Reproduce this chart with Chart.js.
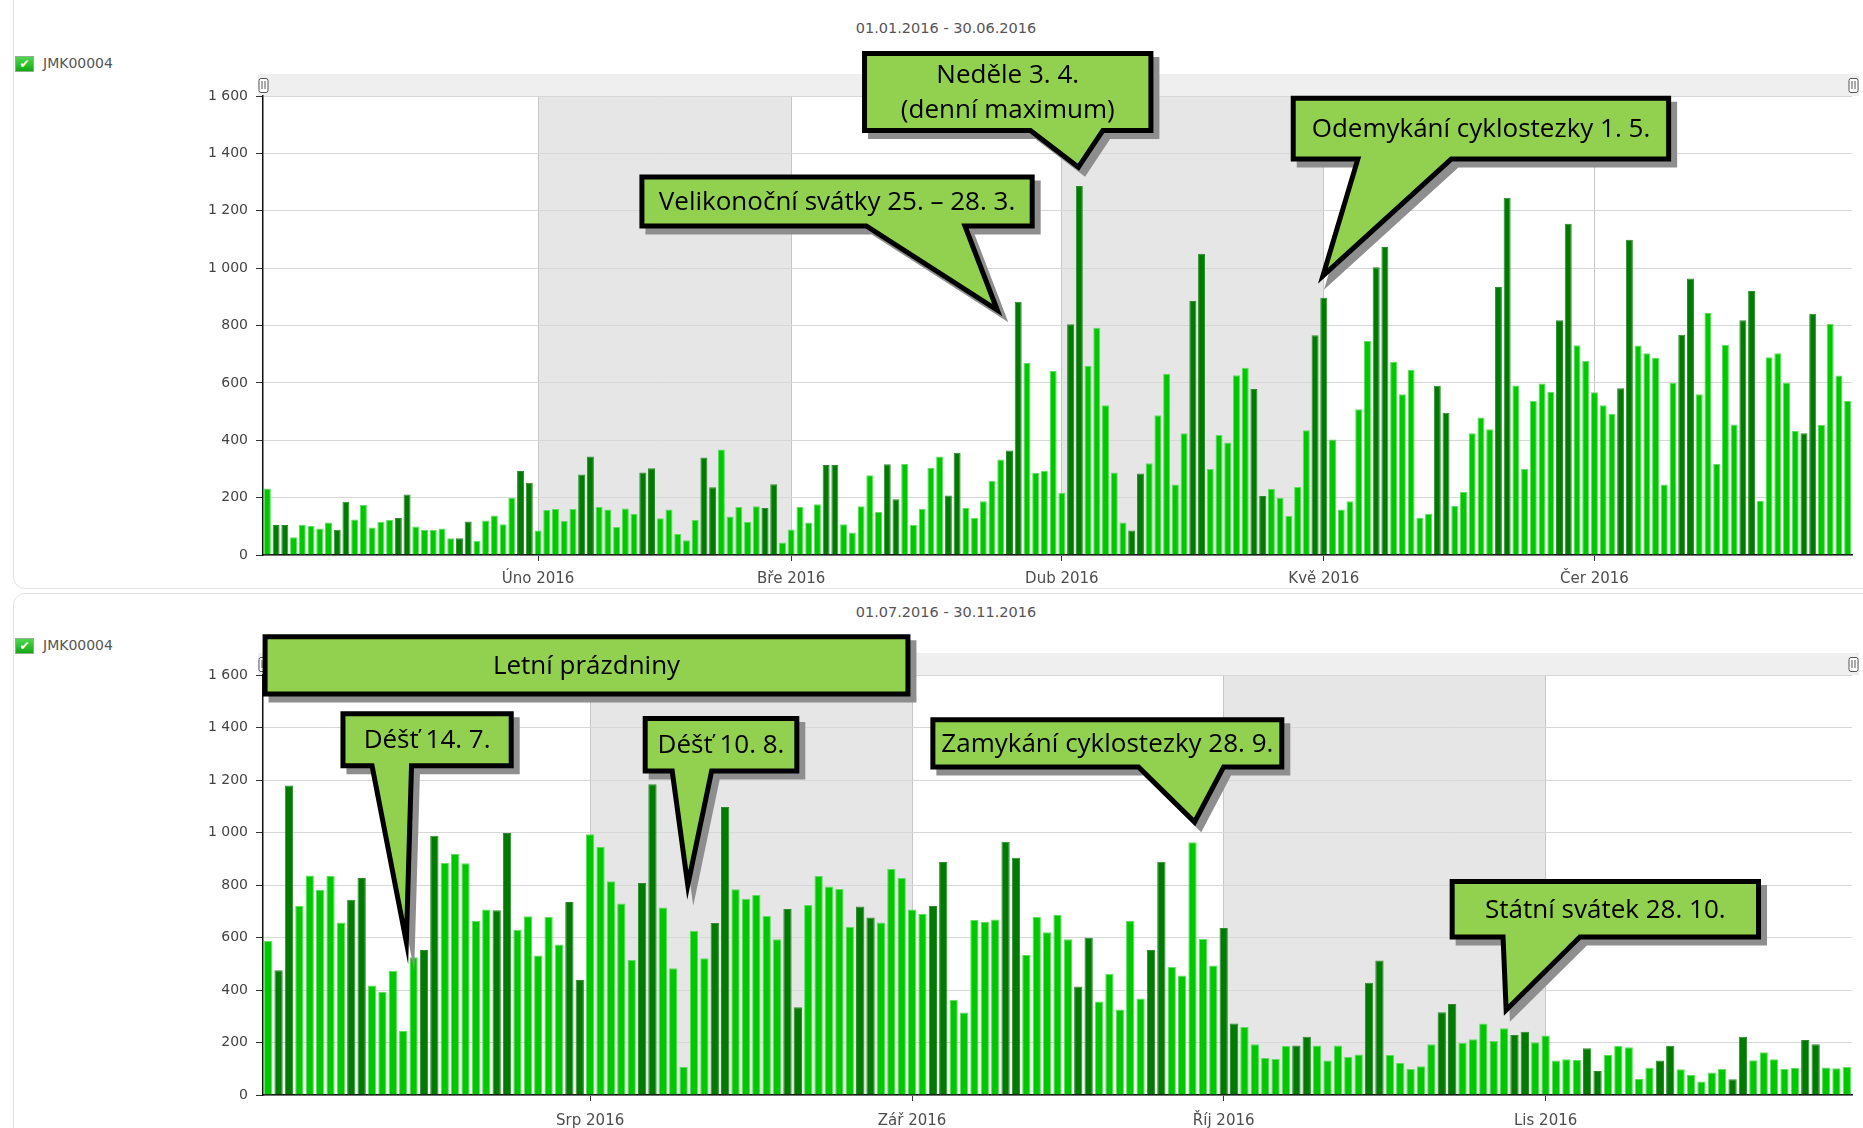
<!DOCTYPE html>
<html><head><meta charset="utf-8">
<script src="https://cdn.jsdelivr.net/npm/chart.js@4.4.1/dist/chart.umd.min.js"></script>
<style>
html,body{margin:0;padding:0;background:#fff}
body{width:1863px;height:1128px;overflow:hidden;position:relative;font-family:"DejaVu Sans",sans-serif}
.panel{position:absolute;border:1px solid #e3e3e3;border-radius:12px;background:transparent}
.title{position:absolute;width:300px;text-align:center;font-size:14.5px;color:#555}
.leg{position:absolute;left:15px;height:16px;font-size:14px;color:#555}
.chk{position:absolute;left:0;top:0;width:17px;height:14px;border:1px solid #8fb08f;background:linear-gradient(#4fd84f,#13a813);color:#fff;font-size:12px;line-height:14px;text-align:center;font-weight:bold}
.legt{position:absolute;left:28px;top:-1px;line-height:16px;white-space:nowrap}
canvas{position:absolute;left:0}
</style></head>
<body>
<div class="panel" style="left:13px;top:-30px;width:1900px;height:617px"></div>
<div class="panel" style="left:13px;top:593px;width:1900px;height:600px"></div>
<div class="title" style="left:796px;top:20px">01.01.2016 - 30.06.2016</div>
<div class="title" style="left:796px;top:604px">01.07.2016 - 30.11.2016</div>
<div class="leg" style="top:56px"><div class="chk">✔</div><div class="legt">JMK00004</div></div>
<div class="leg" style="top:638px"><div class="chk">✔</div><div class="legt">JMK00004</div></div>
<canvas id="c1" width="1863" height="590" style="top:0"></canvas>
<canvas id="c2" width="1863" height="538" style="top:590px"></canvas>
<script>
// ---------- DATA ----------
const seriesName = 'JMK00004';
const startH1 = [2016, 0, 1];   // 01.01.2016
const startH2 = [2016, 6, 1];   // 01.07.2016

const jan = [232,105,105,62,105,101,92,113,88,186,124,175,96,116,122,129,211,99,88,87,92,58,58,117,50,120,138,107,199,293,252];
const feb = [85,157,160,119,160,281,343,168,159,98,162,144,288,302,128,159,73,51,122,340,236,368,134,167,116,170,164,247,44];
const mar = [89,167,113,177,314,314,107,78,170,278,150,316,194,317,105,160,303,343,207,356,164,130,187,259,333,364,883,670,287,293,641];
const apr = [217,804,1286,660,792,522,288,113,85,284,320,487,632,246,424,885,1050,300,418,392,627,653,579,206,231,200,136,237,435,766];
const may = [897,403,159,187,508,746,1003,1074,674,560,645,130,144,590,496,172,220,424,479,438,934,1245,591,300,538,598,569,818,1155,731,677];
const jun = [567,522,492,581,1099,730,703,688,246,600,768,964,560,844,317,733,455,818,920,188,689,703,600,432,424,841,453,805,626,537];
const jul = [588,475,1179,720,836,782,834,657,744,827,417,392,472,244,525,552,988,884,919,883,664,707,704,998,630,681,531,679,573,735,438];
const aug = [993,946,814,730,514,808,1184,714,483,108,626,521,655,1097,784,748,762,682,593,709,334,724,834,794,785,641,718,676,657,862,827];
const sep = [707,690,720,888,363,314,667,659,669,965,904,533,678,620,686,593,413,599,356,462,326,663,368,552,889,489,455,963,594,493];
const oct = [636,272,259,193,142,137,187,189,222,189,131,189,146,154,428,512,152,123,99,110,193,315,347,199,212,272,206,254,229,241,201];
const nov = [227,131,136,133,178,91,152,188,182,61,104,131,188,98,77,51,86,100,60,222,132,163,136,100,103,210,193,105,102,107];

const monthLabelsH1 = ['Úno 2016','Bře 2016','Dub 2016','Kvě 2016','Čer 2016'];
const monthLabelsH2 = ['Srp 2016','Zář 2016','Říj 2016','Lis 2016'];
const yTickValues = [0,200,400,600,800,1000,1200,1400,1600];
const yTickLabels = ['0','200','400','600','800','1 000','1 200','1 400','1 600'];

// Callouts (anchored in data coordinates: day index, value)
const calloutsH1 = [
  {lines:['Velikonoční svátky 25. – 28. 3.'], x0:42.9, x1:87.6, yTop:1318, yBot:1147, tail:[68.6,79.9,83.6,854]},
  {lines:['Neděle 3. 4.','(denní maximum)'], x0:68.4, x1:101.2, yTop:1748, yBot:1480, tail:[87.4,95.7,92.9,1352]},
  {lines:['Odemykání cyklostezky 1. 5.'], x0:117.5, x1:160.5, yTop:1592, yBot:1380, tail:[124.9,135.6,120.9,973]}
];
const calloutsH2 = [
  {lines:['Letní prázdniny'], x0:-0.3, x1:61.6, yTop:1746, yBot:1528, tail:null},
  {lines:['Déšť 14. 7.'], x0:7.2, x1:23.4, yTop:1452, yBot:1254, tail:[10.0,13.8,13.3,583]},
  {lines:['Déšť 10. 8.'], x0:36.3, x1:50.9, yTop:1434, yBot:1234, tail:[38.9,42.7,40.4,800]},
  {lines:['Zamykání cyklostezky 28. 9.'], x0:64.0, x1:97.6, yTop:1430, yBot:1250, tail:[83.8,92.0,89.2,1040]},
  {lines:['Státní svátek 28. 10.'], x0:114.0, x1:143.5, yTop:813, yBot:602, tail:[118.9,126.3,119.2,324]}
];

// ---------- helpers ----------
function buildDates(start, n){
  const out=[];
  for(let i=0;i<n;i++) out.push(new Date(Date.UTC(start[0],start[1],start[2]+i)));
  return out;
}
function monthStartIdx(dates){
  const r=[]; dates.forEach((d,i)=>{ if(i>0 && d.getUTCDate()===1) r.push(i); }); return r;
}

const bandsPlugin = {
  id:'bands',
  beforeDraw(chart, args, o){
    const {ctx, chartArea:a, scales:{x}} = chart;
    ctx.save();
    ctx.fillStyle='#efefef';
    ctx.fillRect(a.left-5, a.top-o.stripH, a.right-a.left+12, o.stripH);
    ctx.fillStyle='#e6e6e6';
    o.ranges.forEach(([s,e])=>{
      const p0=x.getPixelForValue(s), p1=x.getPixelForValue(e);
      ctx.fillRect(p0, a.top, p1-p0, a.bottom-a.top);
    });
    ctx.restore();
  },
  afterDatasetsDraw(chart, args, o){
    const {ctx, chartArea:a} = chart;
    ctx.save();
    [a.left, a.right+1].forEach(cx=>{
      const cy=a.top-o.stripH/2, w=9, h=14;
      ctx.fillStyle='#fff'; ctx.strokeStyle='#555'; ctx.lineWidth=1;
      ctx.beginPath();
      if(ctx.roundRect) ctx.roundRect(cx-w/2+0.5, cy-h/2+0.5, w, h, 2); else ctx.rect(cx-w/2+0.5, cy-h/2+0.5, w, h);
      ctx.fill(); ctx.stroke();
      ctx.beginPath();
      ctx.moveTo(cx-1.5+0.5, cy-4); ctx.lineTo(cx-1.5+0.5, cy+4);
      ctx.moveTo(cx+1.5+0.5, cy-4); ctx.lineTo(cx+1.5+0.5, cy+4);
      ctx.stroke();
    });
    ctx.restore();
  }
};

const calloutPlugin = {
  id:'callouts',
  afterDraw(chart, args, o){
    const {ctx, scales:{x,y}} = chart;
    const X=v=>x.getPixelForValue(v), Y=v=>y.getPixelForValue(v);
    o.items.forEach(c=>{
      const l=X(c.x0), r=X(c.x1), t=Y(c.yTop), b=Y(c.yBot);
      const path=()=>{
        ctx.beginPath();
        ctx.moveTo(l,t); ctx.lineTo(r,t); ctx.lineTo(r,b);
        if(c.tail){
          const [a0,a1,tx,ty]=c.tail;
          ctx.lineTo(X(a1),b); ctx.lineTo(X(tx),Y(ty)); ctx.lineTo(X(a0),b);
        }
        ctx.lineTo(l,b); ctx.closePath();
      };
      ctx.save();
      ctx.lineJoin='miter'; ctx.miterLimit=12; ctx.lineWidth=5;
      ctx.save(); ctx.translate(6,6); path();
      ctx.fillStyle='#8e8e8e'; ctx.strokeStyle='#8e8e8e'; ctx.fill(); ctx.stroke(); ctx.restore();
      path(); ctx.fillStyle='#92d050'; ctx.fill(); ctx.strokeStyle='#000'; ctx.stroke();
      ctx.fillStyle='#000'; ctx.textAlign='center'; ctx.textBaseline='middle';
      ctx.font='26px "Open Sans"';
      const cx=(l+r)/2, cy=(t+b)/2, gap=35;
      c.lines.forEach((s,i)=>{
        const yy=cy+(i-(c.lines.length-1)/2)*gap;
        ctx.fillText(s, cx, yy+1, (r-l)-14);
      });
      ctx.restore();
    });
  }
};

function makeChart(id, start, values, monthLabels, bandMonths, callouts, padTop, xH, lblPad){
  const dates = buildDates(start, values.length);
  const ticksIdx = monthStartIdx(dates);
  const weekend = dates.map(d=>d.getUTCDay()===0||d.getUTCDay()===6);
  const ranges = bandMonths.map(m=>[ticksIdx[m], ticksIdx[m+1]]);
  const n = values.length;
  return new Chart(document.getElementById(id), {
    type:'bar',
    data:{
      datasets:[{
        label: seriesName,
        data: values.map((v,i)=>({x:i,y:v})),
        backgroundColor: weekend.map(w=>w?'#017a01':'#00c800'),
        borderColor: weekend.map(w=>w?'#2a8c2a':'#5ddf5d'),
        borderWidth: 1,
        borderSkipped:'start',
        barPercentage: 0.8,
        categoryPercentage: 1
      }]
    },
    options:{
      responsive:false, animation:false, events:[],
      layout:{padding:{top:padTop, right:11, left:0, bottom:0}},
      plugins:{
        legend:{display:false}, tooltip:{enabled:false},
        bands:{ranges, stripH: 22},
        callouts:{items: callouts}
      },
      scales:{
        x:{
          type:'linear', min:-0.5, max:n-0.5, offset:false, bounds:'ticks',
          afterBuildTicks:s=>{ s.ticks = ticksIdx.map(v=>({value:v})); },
          afterFit:s=>{ s.height = xH; },
          ticks:{ callback:(v,i)=>monthLabels[i], autoSkip:false, maxRotation:0, padding:lblPad,
                  font:{family:'DejaVu Sans', size:15}, color:'#4d4d4d' },
          grid:{ offset:false, color:'#c6c6c6', tickColor:'#333', tickLength:6, lineWidth:1 },
          border:{ color:'#111', width:1.5 }
        },
        y:{
          min:0, max:1600,
          afterBuildTicks:s=>{ s.ticks = yTickValues.map(v=>({value:v})); },
          afterFit:s=>{ s.width = 263; },
          ticks:{ callback:(v,i)=>yTickLabels[i], padding:8,
                  font:{family:'DejaVu Sans', size:14}, color:'#444' },
          grid:{ color:'#d7d7d7', tickColor:'#333', tickLength:7 },
          border:{ color:'#111', width:1.5 }
        }
      }
    },
    plugins:[bandsPlugin, calloutPlugin]
  });
}

makeChart('c1', startH1, [].concat(jan,feb,mar,apr,may,jun), monthLabelsH1, [0,2], calloutsH1, 96, 35, 9);
makeChart('c2', startH2, [].concat(jul,aug,sep,oct,nov), monthLabelsH2, [0,2], calloutsH2, 85, 33, 11);
</script>
</body></html>
